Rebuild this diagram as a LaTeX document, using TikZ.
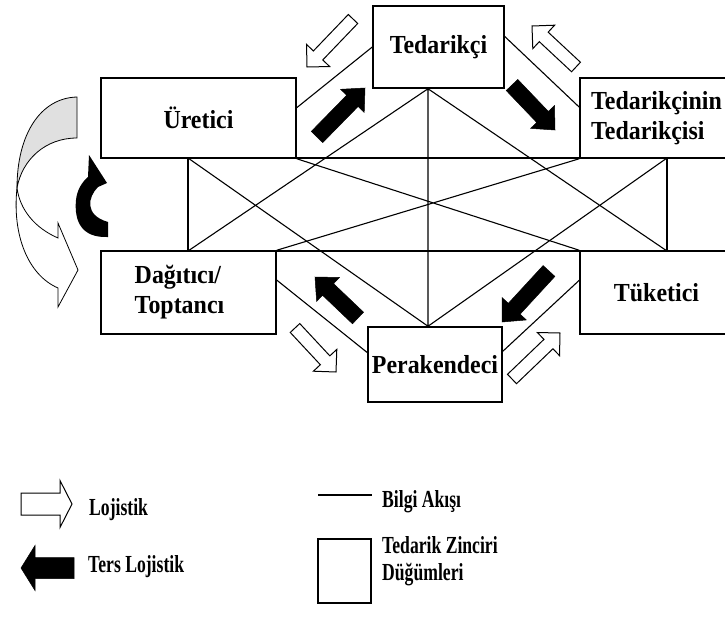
\documentclass[tikz,border=0pt]{standalone}
\usepackage{fontspec}
\setmainfont{Liberation Serif}
\newfontfamily\boxfont{Liberation Serif}[FakeStretch=0.92]
\newfontfamily\keyfont{Liberation Serif}[FakeStretch=0.72]
\usetikzlibrary{calc}

% block arrow: #1 style, #2 tail coordinate, #3 tip coordinate,
% #4 shaft half-width, #5 head half-width, #6 head length
\newcommand\blockarrow[6]{%
  \coordinate (ba-h) at ($(#3)!#6!(#2)$);
  \draw[#1] ($(#2)!#4!90:(#3)$) -- ($(ba-h)!#4!90:(#3)$) -- ($(ba-h)!#5!90:(#3)$) -- (#3)
    -- ($(ba-h)!#5!-90:(#3)$) -- ($(ba-h)!#4!-90:(#3)$) -- ($(#2)!#4!-90:(#3)$) -- cycle;
}

\begin{document}
\begin{tikzpicture}[x=1pt,y=-1pt,
  box/.style={draw,line width=1.5pt,fill=white,inner sep=0pt,
    font=\boxfont\bfseries\fontsize{26}{30}\selectfont},
  info/.style={line width=1.1pt},
  logistics/.style={draw=black,fill=white,line width=1pt,line join=miter},
  reverse/.style={draw=black,fill=black,line width=0.5pt,line join=miter},
  key/.style={font=\keyfont\bfseries\fontsize{24.5}{27}\selectfont,inner sep=0pt,
    anchor=base west,align=left}]
\clip (0,0) rectangle (725,618);
\fill[white] (0,0) rectangle (725,618);

% supply chain nodes
\node[box,minimum width=195pt,minimum height=80pt] (ure) at (198.5,118) {Üretici};
\node[box,minimum width=131pt,minimum height=82pt] (ted) at (438.5,47) {Tedarikçi};
\node[box,minimum width=153pt,minimum height=80pt,align=left] (tt) at (656.5,118)
  {Tedarikçinin\\Tedarikçisi};
\node[box,minimum width=175pt,minimum height=83pt,align=left] (dag) at (188.5,292.5)
  {Dağıtıcı/\\Toptancı\hspace*{18pt}};
\node[box,minimum width=134pt,minimum height=75pt] (per) at (435,364.5) {Perakendeci};
\node[box,minimum width=153pt,minimum height=83pt] (tuk) at (656.5,292.5) {Tüketici};

% corners of the central frame and the vertical axis
\coordinate (ul) at (188,158);
\coordinate (ur) at (667,158);
\coordinate (lr) at (667,251);
\coordinate (ll) at (188,251);
\coordinate (mx) at (428,0);

% information flow
\draw[info] (ul) rectangle (lr);
\draw[info] (ted.south -| mx) -- (ll)
            (ted.south -| mx) -- (lr)
            (ted.south -| mx) -- (per.north -| mx)
            (per.north -| mx) -- (ul)
            (per.north -| mx) -- (ur);
\draw[info] (ure.south east) -- (tuk.north west)
            (dag.north east) -- (tt.south west);
\draw[info] (ure.6) -- (ted.west)
            (ted.9) -- (tt.172)
            (dag.8) -- (per.170)
            (per.11) -- (tuk.171);

% logistics arrows
\coordinate (w1t) at (353,19);  \coordinate (w1p) at (307,67);
\coordinate (w2t) at (576,67);  \coordinate (w2p) at (532,26);
\coordinate (w3t) at (295,328); \coordinate (w3p) at (336,372);
\coordinate (w4t) at (512,379); \coordinate (w4p) at (560,333);
\blockarrow{logistics}{w1t}{w1p}{6.5pt}{16pt}{16pt}
\blockarrow{logistics}{w2t}{w2p}{6.5pt}{16pt}{16pt}
\blockarrow{logistics}{w3t}{w3p}{6.5pt}{16pt}{16pt}
\blockarrow{logistics}{w4t}{w4p}{6.5pt}{16pt}{16pt}

% reverse logistics arrows
\coordinate (b1t) at (317,137); \coordinate (b1p) at (365,88);
\coordinate (b2t) at (512,85);  \coordinate (b2p) at (555,130);
\coordinate (b3t) at (549,271); \coordinate (b3p) at (502,322);
\coordinate (b4t) at (358,318); \coordinate (b4p) at (315,277);
\blockarrow{reverse}{b1t}{b1p}{8pt}{16.5pt}{18pt}
\blockarrow{reverse}{b2t}{b2p}{8pt}{16.5pt}{18pt}
\blockarrow{reverse}{b3t}{b3p}{8pt}{16.5pt}{18pt}
\blockarrow{reverse}{b4t}{b4p}{8pt}{16.5pt}{18pt}

% curved logistics arrow from producer to distributor
\filldraw[fill=black!12,draw=black,line width=0.8pt]
  (77,97) .. controls (40,98) and (17,135) .. (17,188)
  .. controls (22,160) and (45,138) .. (77,138) -- cycle;
\filldraw[fill=white,draw=black,line width=0.8pt,line join=miter]
  (17,188) .. controls (12,235) and (28,275) .. (58,288) -- (58,307) -- (78,270)
  -- (58,223) -- (58,238) .. controls (35,228) and (20,210) .. (17,188) -- cycle;

% curved reverse logistics arrow
\fill[black] (89,155) -- (107,183) -- (98,187)
  .. controls (88,197) and (84,215) .. (108,222) -- (108,237)
  .. controls (82,238) and (74,222) .. (76,200)
  .. controls (77,190) and (82,182) .. (88,177) -- cycle;

% key
\coordinate (klt) at (21,504); \coordinate (klp) at (72,504);
\blockarrow{logistics}{klt}{klp}{11pt}{23.5pt}{12pt}
\node[key] (klog) at (89,515) {Lojistik};
\coordinate (krt) at (74,568); \coordinate (krp) at (21,568);
\blockarrow{reverse}{krt}{krp}{10.5pt}{22.5pt}{14pt}
\node[key] (krev) at (88,572) {Ters Lojistik};
\coordinate (kia) at (318,495); \coordinate (kib) at (372,495);
\draw[info] (kia) -- (kib);
\node[key] (kinf) at (382,507) {Bilgi Akışı};
\node[draw,line width=1.5pt,minimum width=53pt,minimum height=64pt,inner sep=0pt]
  (ksq) at (344.5,571) {};
\node[key] (knod) at (382,580) {Tedarik Zinciri\\Düğümleri};
\end{tikzpicture}
\end{document}
